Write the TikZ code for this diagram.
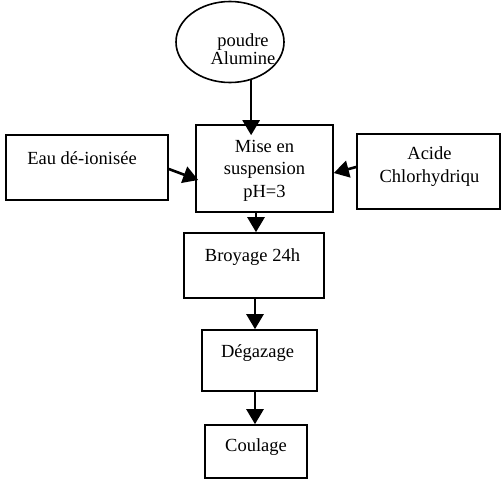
\documentclass[tikz,border=0pt]{standalone}
\usepackage{fontspec}
\setmainfont{Liberation Serif}
\usetikzlibrary{arrows.meta,shapes.geometric,calc}
\begin{document}
\begin{tikzpicture}[x=1pt,y=-1pt,
  box/.style={draw, line width=1.6pt, inner sep=0pt},
  lab/.style={anchor=center, align=center, inner sep=0pt, font=\fontsize{18.5}{22.5}\selectfont},
  arr/.style={line width=2.6pt, -{Triangle[width=17pt,length=15pt]}}]
\useasboundingbox (0,0) rectangle (501,479);
% nodes
\node[box, ellipse, minimum width=108pt, minimum height=81pt,
  label={[lab,xshift=13pt,yshift=-7pt,font=\fontsize{18.5}{18.5}\selectfont]center:poudre\\Alumine}] (ell) at (230,42) {};
\node[box, minimum width=137pt, minimum height=87pt,
  label={[lab,yshift=-2pt]center:Mise en\\suspension\\pH=3}] (mise) at (264.5,168.5) {};
\node[box, minimum width=162pt, minimum height=65pt,
  label={[lab,xshift=-5pt,yshift=9.5pt]center:Eau dé-ionisée}] (eau) at (87,167.5) {};
\node[box, minimum width=143pt, minimum height=75pt,
  label={[lab,xshift=1pt,yshift=5pt]center:Acide\\Chlorhydriqu}] (acide) at (428.5,171.5) {};
\node[box, minimum width=140pt, minimum height=65pt,
  label={[lab,xshift=-1.5pt,yshift=8.5pt]center:Broyage 24h}] (broy) at (254,265.5) {};
\node[box, minimum width=115pt, minimum height=61pt,
  label={[lab,xshift=-2pt,yshift=7.5pt]center:Dégazage}] (deg) at (259.5,360.5) {};
\node[box, minimum width=102pt, minimum height=53pt,
  label={[lab,yshift=4.5pt]center:Coulage}] (coul) at (256,451.5) {};
% connectors
\draw[arr] (ell.-61) -- ($(ell.-61 |- mise.north)+(0,11)$);
\draw[arr] ([yshift=-1.5pt]eau.east) -- ([xshift=3pt,yshift=-11.5pt]mise.west);
\draw[arr] ([yshift=4.5pt]acide.west) -- ([yshift=-4.5pt]mise.east);
\coordinate (m1) at ([xshift=-8.5pt]mise.south);
\draw[arr] (m1) -- (m1 |- broy.north);
\coordinate (b1) at ([xshift=1pt]broy.south);
\draw[arr] (b1) -- (b1 |- deg.north);
\coordinate (d1) at ([xshift=-4.5pt]deg.south);
\draw[arr] (d1) -- (d1 |- coul.north);
\end{tikzpicture}
\end{document}
